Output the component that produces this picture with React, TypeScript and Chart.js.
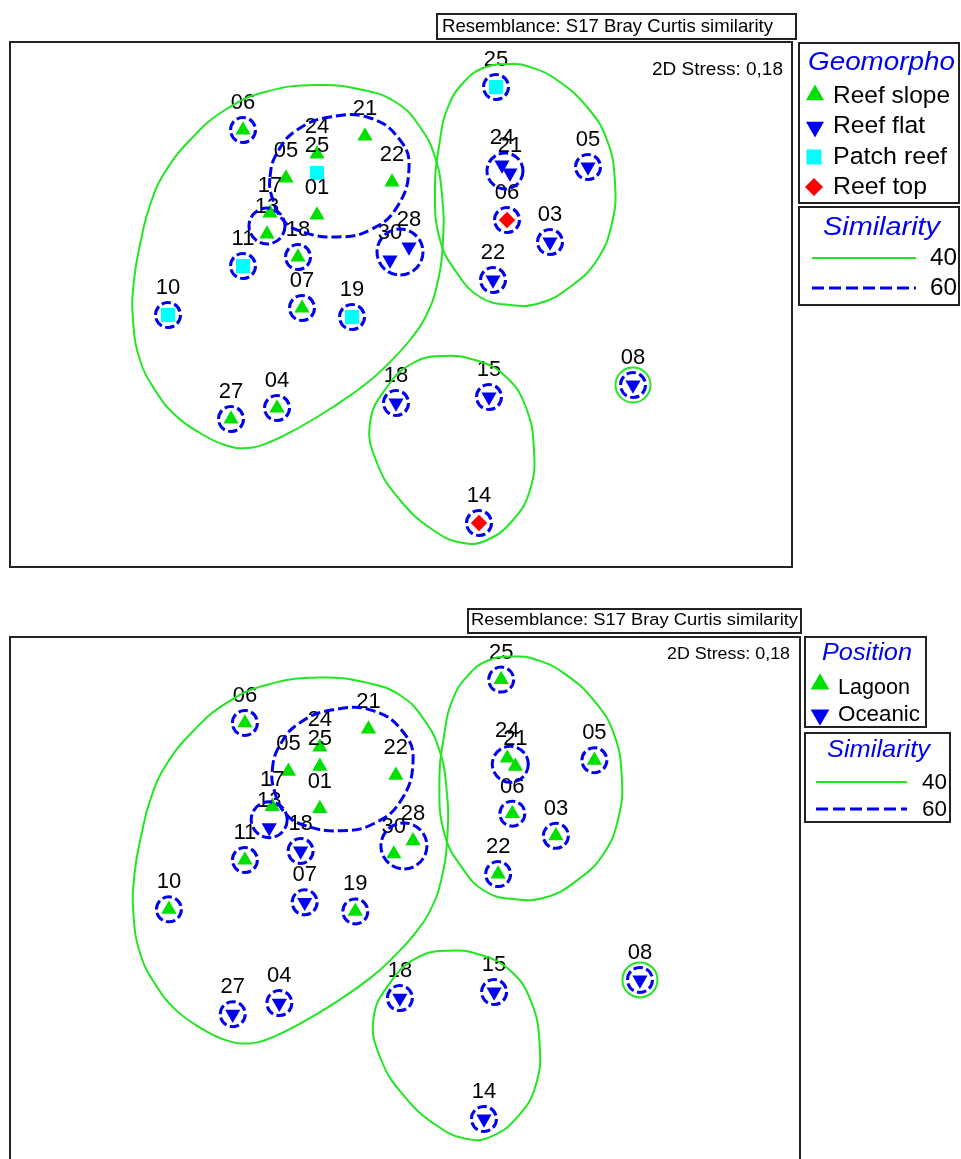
import React, { useEffect, useRef } from 'react';
import { Chart, registerables } from 'chart.js';

Chart.register(...registerables);

// ---------- DATA (nMDS configuration, shared by both plots) ----------
const sampleLabels = ['06', '21', '24', '25', '05', '22', '13', '17', '01', '18', '11', '28', '30', '10', '07', '19', '27', '04', '25', '24', '21', '05', '06', '03', '22', '18', '15', '14', '08'];
const sampleX = [23.3, 35.5, 30.7, 30.7, 27.6, 38.2, 25.7, 26.0, 30.7, 28.8, 23.3, 39.9, 38.0, 15.8, 29.2, 34.2, 22.1, 26.7, 48.6, 49.2, 50.0, 57.8, 49.7, 54.0, 48.3, 38.6, 47.9, 46.9, 62.3];
const sampleY = [43.7, 43.1, 41.3, 39.4, 38.9, 38.5, 33.3, 35.4, 35.2, 31.0, 30.1, 32.0, 30.7, 25.2, 25.9, 25.0, 14.8, 15.9, 48.0, 40.2, 39.4, 40.0, 34.7, 32.5, 28.7, 16.4, 17.0, 4.4, 18.2];
const geomorpho = ['Reef slope', 'Reef slope', 'Reef slope', 'Patch reef', 'Reef slope', 'Reef slope', 'Reef slope', 'Reef slope', 'Reef slope', 'Reef slope', 'Patch reef', 'Reef flat', 'Reef flat', 'Patch reef', 'Reef slope', 'Patch reef', 'Reef slope', 'Reef slope', 'Patch reef', 'Reef flat', 'Reef flat', 'Reef flat', 'Reef top', 'Reef flat', 'Reef flat', 'Reef flat', 'Reef flat', 'Reef top', 'Reef flat'];
const position = ['Lagoon', 'Lagoon', 'Lagoon', 'Lagoon', 'Lagoon', 'Lagoon', 'Oceanic', 'Lagoon', 'Lagoon', 'Oceanic', 'Lagoon', 'Lagoon', 'Lagoon', 'Lagoon', 'Oceanic', 'Lagoon', 'Oceanic', 'Oceanic', 'Lagoon', 'Lagoon', 'Lagoon', 'Lagoon', 'Lagoon', 'Lagoon', 'Lagoon', 'Oceanic', 'Oceanic', 'Oceanic', 'Oceanic'];

const geomorphoCategories = ['Reef slope', 'Reef flat', 'Patch reef', 'Reef top'];
const positionCategories = ['Lagoon', 'Oceanic'];
const similarityLevels = ['40', '60'];

// single-sample clusters at 60 % similarity (sample indices)
const singles60 = [0, 9, 10, 13, 14, 15, 16, 17, 18, 21, 22, 23, 24, 25, 26, 27, 28];
// single-sample clusters at 40 % similarity
const singles40 = [28];
// small multi-sample 60 % clusters (centres)
const cluster60X = [25.7, 39.0, 49.5];
const cluster60Y = [34.1, 31.5, 39.6];

// 40 % contours
const contourA_X = [30.7, 35.3, 38.7, 41.0, 42.5, 43.2, 43.3, 42.7, 41.5, 40.0, 38.0, 35.7, 32.3, 29.0, 26.0, 23.8, 21.5, 19.0, 16.5, 14.5, 13.0, 12.3, 12.4, 13.1, 14.0, 15.5, 18.2, 21.5, 25.5];
const contourA_Y = [48.2, 47.7, 46.4, 44.0, 41.0, 37.2, 32.7, 28.2, 24.9, 22.7, 20.5, 18.4, 16.0, 14.0, 12.5, 11.9, 12.2, 13.4, 15.2, 17.7, 20.7, 24.7, 28.7, 32.7, 36.2, 39.5, 42.9, 45.7, 47.5];
const contourB_X = [50.0, 52.0, 54.7, 57.7, 59.7, 60.5, 60.2, 58.7, 56.0, 53.0, 50.0, 47.0, 44.7, 43.0, 42.5, 43.0, 43.8, 45.3, 47.3];
const contourB_Y = [50.3, 50.0, 48.7, 46.0, 42.7, 38.4, 34.4, 30.7, 28.0, 26.4, 26.2, 27.0, 29.4, 32.7, 37.7, 42.7, 46.0, 48.4, 49.9];
const contourC_X = [40.3, 43.3, 46.5, 49.4, 51.5, 52.4, 52.0, 50.3, 47.7, 45.3, 42.3, 39.0, 36.7, 36.0, 37.7];
const contourC_Y = [20.4, 21.1, 20.7, 19.2, 16.2, 11.7, 7.7, 4.7, 2.7, 2.4, 3.7, 6.7, 10.4, 14.4, 18.0];
// 60 % contour
const contourD_X = [26.0, 26.7, 28.7, 32.0, 36.0, 39.0, 39.9, 38.7, 36.0, 32.7, 29.3, 27.3, 26.2];
const contourD_Y = [39.0, 41.4, 43.7, 45.0, 44.9, 42.7, 39.9, 36.0, 33.7, 33.0, 33.5, 34.7, 37.0];

// ---------- STYLES ----------
const GREEN = '#00e000';
const GREEN_LINE = '#22e622';
const BLUE = '#0000f0';
const CYAN = '#00ffff';
const RED = '#ff0000';
const FRAME = '#222222';
const FONT = '"Liberation Sans", Arial, Helvetica, sans-serif';

const symbolStyles: any = {
  'Reef slope': { pointStyle: 'triangle', rotation: 0, color: GREEN, radius: 8.8 },
  'Reef flat': { pointStyle: 'triangle', rotation: 180, color: BLUE, radius: 8.8 },
  'Patch reef': { pointStyle: 'rect', rotation: 0, color: CYAN, radius: 10 },
  'Reef top': { pointStyle: 'rectRot', rotation: 0, color: RED, radius: 8.2 },
  Lagoon: { pointStyle: 'triangle', rotation: 0, color: GREEN, radius: 8.8 },
  Oceanic: { pointStyle: 'triangle', rotation: 180, color: BLUE, radius: 8.8 },
};

const cluster60Radius = [18, 23, 18];

function closedLoop(xs: number[], ys: number[]) {
  const pts = xs.map((x, i) => ({ x, y: ys[i] }));
  const n = pts.length;
  return [pts[n - 1], ...pts, pts[0], pts[1]];
}

function contourDataset(xs: number[], ys: number[], color: string, width: number, dash: number[]) {
  const data = closedLoop(xs, ys);
  const last = data.length - 1;
  return {
    type: 'line',
    data,
    borderColor: color,
    borderWidth: width,
    borderDash: dash,
    tension: 0.45,
    fill: false,
    pointRadius: 0,
    pointHoverRadius: 0,
    pointHitRadius: 0,
    order: 2,
    segment: {
      borderColor: (ctx: any) => (ctx.p0DataIndex === 0 || ctx.p1DataIndex === last ? 'rgba(0,0,0,0)' : undefined),
    },
  };
}

function buildDatasets(categories: string[]) {
  const ds: any[] = [];
  sampleLabels.forEach((lab, i) => {
    const st = symbolStyles[categories[i]];
    ds.push({
      type: 'scatter',
      data: [{ x: sampleX[i], y: sampleY[i] }],
      pointStyle: st.pointStyle,
      pointRotation: st.rotation,
      pointRadius: st.radius,
      pointHoverRadius: st.radius,
      pointBackgroundColor: st.color,
      pointBorderWidth: 0,
      pointHoverBorderWidth: 0,
      order: 1000 - i,
      sampleLabel: lab,
    });
  });
  ds.push(contourDataset(contourA_X, contourA_Y, GREEN_LINE, 2, []));
  ds.push(contourDataset(contourB_X, contourB_Y, GREEN_LINE, 2, []));
  ds.push(contourDataset(contourC_X, contourC_Y, GREEN_LINE, 2, []));
  ds.push(contourDataset(contourD_X, contourD_Y, BLUE, 3, [10, 4]));
  ds.push({
    type: 'scatter',
    data: singles60.map((i) => ({ x: sampleX[i], y: sampleY[i] })),
    pointStyle: 'circle',
    pointRadius: 12.5,
    pointHoverRadius: 12.5,
    pointBackgroundColor: 'rgba(0,0,0,0)',
    pointBorderColor: BLUE,
    pointBorderWidth: 3,
    pointHoverBorderWidth: 3,
    ringDash: [9.5, 3.5],
    order: 1,
  });
  ds.push({
    type: 'scatter',
    data: cluster60X.map((x, k) => ({ x, y: cluster60Y[k] })),
    pointStyle: 'circle',
    pointRadius: cluster60Radius,
    pointHoverRadius: cluster60Radius,
    pointBackgroundColor: 'rgba(0,0,0,0)',
    pointBorderColor: BLUE,
    pointBorderWidth: 3,
    pointHoverBorderWidth: 3,
    ringDash: [9.5, 3.5],
    order: 1,
  });
  ds.push({
    type: 'scatter',
    data: singles40.map((i) => ({ x: sampleX[i], y: sampleY[i] })),
    pointStyle: 'circle',
    pointRadius: 17.5,
    pointHoverRadius: 17.5,
    pointBackgroundColor: 'rgba(0,0,0,0)',
    pointBorderColor: GREEN_LINE,
    pointBorderWidth: 2,
    pointHoverBorderWidth: 2,
    order: 1,
  });
  return ds;
}

// ---------- drawing helpers ----------
function fitText(ctx: CanvasRenderingContext2D, text: string, x: number, y: number, size: number, width: number, opts: any = {}) {
  ctx.save();
  ctx.font = `${opts.italic ? 'italic ' : ''}${size}px ${FONT}`;
  ctx.fillStyle = opts.color || '#000';
  ctx.textBaseline = 'middle';
  ctx.textAlign = 'left';
  const m = ctx.measureText(text).width || 1;
  const s = width / m;
  let x0 = x;
  if (opts.align === 'right') x0 = x - width;
  if (opts.align === 'center') x0 = x - width / 2;
  ctx.translate(x0, y);
  ctx.scale(s, 1);
  ctx.fillText(text, 0, 0);
  ctx.restore();
}

function drawSymbol(ctx: CanvasRenderingContext2D, st: any, x: number, y: number, r: number) {
  ctx.save();
  ctx.fillStyle = st.color;
  ctx.beginPath();
  if (st.pointStyle === 'triangle') {
    let rad = (st.rotation * Math.PI) / 180;
    ctx.moveTo(x + Math.sin(rad) * r, y - Math.cos(rad) * r);
    rad += (2 * Math.PI) / 3;
    ctx.lineTo(x + Math.sin(rad) * r, y - Math.cos(rad) * r);
    rad += (2 * Math.PI) / 3;
    ctx.lineTo(x + Math.sin(rad) * r, y - Math.cos(rad) * r);
    ctx.closePath();
  } else if (st.pointStyle === 'rect') {
    const s = r * Math.SQRT1_2;
    ctx.rect(x - s, y - s, 2 * s, 2 * s);
  } else {
    ctx.moveTo(x, y - r);
    ctx.lineTo(x + r, y);
    ctx.lineTo(x, y + r);
    ctx.lineTo(x - r, y);
    ctx.closePath();
  }
  ctx.fill();
  ctx.restore();
}

function box(ctx: CanvasRenderingContext2D, b: number[], lw = 2) {
  ctx.save();
  ctx.strokeStyle = FRAME;
  ctx.lineWidth = lw;
  ctx.strokeRect(b[0], b[1], b[2] - b[0], b[3] - b[1]);
  ctx.restore();
}

// ---------- layouts ----------
const topLayout: any = {
  canvasTop: 0,
  canvasH: 580,
  area: [10, 42, 792, 567],
  xRange: [0, 78.2],
  yRange: [0, 52.5],
  categories: geomorpho,
  decor: {
    titleBox: [437, 14, 796, 39],
    title: { x: 442, y: 27, w: 331, size: 18.5 },
    stress: { x: 652, y: 70, w: 131, size: 19 },
    legendBox: [799, 43, 959, 203],
    legendTitle: { text: 'Geomorpho', x: 808, y: 63, w: 147, size: 26 },
    legendCats: geomorphoCategories,
    legendItems: [
      { sx: 815, sy: 95, sr: 10.4, tx: 833, ty: 96, w: 117 },
      { sx: 815, sy: 127, sr: 10.4, tx: 833, ty: 126, w: 92 },
      { sx: 814, sy: 157, sr: 10.6, tx: 833, ty: 157, w: 114 },
      { sx: 814, sy: 187, sr: 9, tx: 833, ty: 187, w: 94 },
    ],
    itemSize: 24.5,
    simBox: [799, 207, 959, 305],
    simTitle: { x: 823, y: 228, w: 117, size: 26 },
    simLines: [
      { x1: 812, x2: 916, y: 258, lx: 957, ly: 258, w: 27 },
      { x1: 812, x2: 916, y: 288, lx: 957, ly: 288, w: 27 },
    ],
    simSize: 24,
  },
};

const bottomLayout: any = {
  canvasTop: 590,
  canvasH: 580,
  area: [10, 637, 800, 1163],
  xRange: [0.11, 78.1],
  yRange: [0.03, 52.23],
  categories: position,
  decor: {
    titleBox: [468, 609, 801, 633],
    title: { x: 471, y: 621, w: 327, size: 16 },
    stress: { x: 667, y: 655, w: 123, size: 16 },
    legendBox: [805, 637, 926, 727],
    legendTitle: { text: 'Position', x: 822, y: 653, w: 90, size: 24 },
    legendCats: positionCategories,
    legendItems: [
      { sx: 820, sy: 684, sr: 10.8, tx: 838, ty: 688, w: 72 },
      { sx: 820, sy: 715, sr: 10.8, tx: 838, ty: 715, w: 82 },
    ],
    itemSize: 22,
    simBox: [805, 733, 950, 822],
    simTitle: { x: 827, y: 750, w: 103, size: 24 },
    simLines: [
      { x1: 816, x2: 907, y: 782, lx: 947, ly: 783, w: 25 },
      { x1: 816, x2: 907, y: 809, lx: 947, ly: 810, w: 25 },
    ],
    simSize: 22,
  },
};

function makePlugin(layout: any) {
  return {
    id: 'mdsDecor',
    beforeDatasetDraw(chart: any, args: any) {
      const ds = chart.data.datasets[args.index];
      if (ds.ringDash) {
        chart.ctx.save();
        chart.ctx.setLineDash(ds.ringDash);
      }
    },
    afterDatasetDraw(chart: any, args: any) {
      const ds = chart.data.datasets[args.index];
      const ctx = chart.ctx;
      if (ds.ringDash) ctx.restore();
      if (ds.sampleLabel) {
        const el = args.meta.data[0];
        ctx.save();
        ctx.font = `22px ${FONT}`;
        ctx.fillStyle = '#000';
        ctx.textAlign = 'center';
        ctx.textBaseline = 'middle';
        ctx.fillText(ds.sampleLabel, el.x, el.y - 27);
        ctx.restore();
      }
    },
    afterDraw(chart: any) {
      const ctx: CanvasRenderingContext2D = chart.ctx;
      const d = layout.decor;
      ctx.save();
      ctx.translate(0, -layout.canvasTop);
      const a = layout.area;
      box(ctx, a, 2);
      box(ctx, d.titleBox, 2);
      fitText(ctx, 'Resemblance: S17 Bray Curtis similarity', d.title.x, d.title.y, d.title.size, d.title.w);
      fitText(ctx, '2D Stress: 0,18', d.stress.x, d.stress.y, d.stress.size, d.stress.w);
      box(ctx, d.legendBox, 2);
      fitText(ctx, d.legendTitle.text, d.legendTitle.x, d.legendTitle.y, d.legendTitle.size, d.legendTitle.w, { italic: true, color: BLUE });
      d.legendCats.forEach((cat: string, k: number) => {
        const it = d.legendItems[k];
        drawSymbol(ctx, symbolStyles[cat], it.sx, it.sy, it.sr);
        fitText(ctx, cat, it.tx, it.ty, d.itemSize, it.w);
      });
      box(ctx, d.simBox, 2);
      fitText(ctx, 'Similarity', d.simTitle.x, d.simTitle.y, d.simTitle.size, d.simTitle.w, { italic: true, color: BLUE });
      similarityLevels.forEach((lev, k) => {
        const ln = d.simLines[k];
        ctx.save();
        ctx.beginPath();
        if (k === 0) {
          ctx.strokeStyle = GREEN_LINE;
          ctx.lineWidth = 2;
        } else {
          ctx.strokeStyle = BLUE;
          ctx.lineWidth = 3;
          ctx.setLineDash([12, 5]);
        }
        ctx.moveTo(ln.x1, ln.y);
        ctx.lineTo(ln.x2, ln.y);
        ctx.stroke();
        ctx.restore();
        fitText(ctx, lev, ln.lx, ln.ly, d.simSize, ln.w, { align: 'right' });
      });
      ctx.restore();
    },
  };
}

function makeConfig(layout: any) {
  const a = layout.area;
  return {
    type: 'scatter',
    data: { datasets: buildDatasets(layout.categories) },
    options: {
      responsive: false,
      animation: false,
      devicePixelRatio: 1,
      events: [],
      layout: {
        autoPadding: false,
        padding: {
          left: a[0],
          top: a[1] - layout.canvasTop,
          right: 961 - a[2],
          bottom: layout.canvasTop + layout.canvasH - a[3],
        },
      },
      scales: {
        x: { type: 'linear', min: layout.xRange[0], max: layout.xRange[1], display: false },
        y: { type: 'linear', min: layout.yRange[0], max: layout.yRange[1], display: false },
      },
      plugins: {
        legend: { display: false },
        tooltip: { enabled: false },
      },
    },
    plugins: [makePlugin(layout)],
  } as any;
}

export default function App() {
  const topRef = useRef<HTMLCanvasElement>(null);
  const botRef = useRef<HTMLCanvasElement>(null);
  useEffect(() => {
    document.body.style.margin = '0';
    const c1 = new Chart(topRef.current as HTMLCanvasElement, makeConfig(topLayout));
    const c2 = new Chart(botRef.current as HTMLCanvasElement, makeConfig(bottomLayout));
    return () => {
      c1.destroy();
      c2.destroy();
    };
  }, []);
  return (
    <div style={{ position: 'fixed', left: 0, top: 0, width: 961, height: 1159, overflow: 'hidden', background: '#fff' }}>
      <canvas ref={topRef} width={961} height={580} style={{ position: 'absolute', left: 0, top: 0, width: 961, height: 580 }} />
      <canvas ref={botRef} width={961} height={580} style={{ position: 'absolute', left: 0, top: 590, width: 961, height: 580 }} />
    </div>
  );
}
